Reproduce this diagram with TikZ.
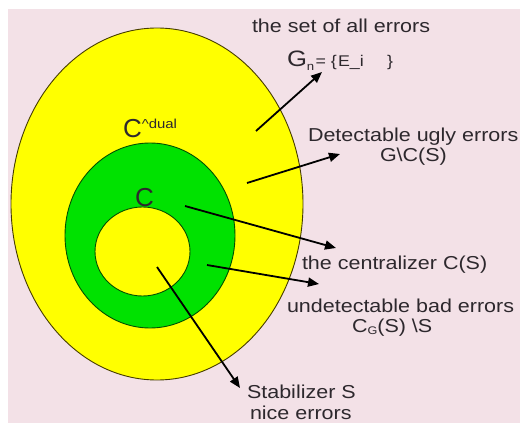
\documentclass[tikz,border=0pt]{standalone}
\usepackage{fontspec}
\setmainfont[FakeStretch=1.15]{Liberation Sans}
\newfontfamily\plainsans{Liberation Sans}
\usetikzlibrary{arrows.meta,shapes.geometric}
\definecolor{bgpink}{RGB}{243,225,231}
\definecolor{yel}{RGB}{255,255,0}
\definecolor{grn}{RGB}{0,226,0}
\definecolor{txt}{RGB}{45,40,45}
\definecolor{outerline}{RGB}{70,60,0}
\definecolor{grnline}{RGB}{0,80,0}
\newcommand{\fsz}[1]{\fontsize{#1}{#1}\selectfont}
\begin{document}
\begin{tikzpicture}[x=1pt,y=-1pt,
  lbl/.style={anchor=base west,inner sep=0pt,outer sep=0pt,text=txt,font=\fsz{18.7}},
  ring/.style={ellipse,inner sep=0pt,outer sep=0pt,line width=0.9pt},
  arr/.style={line width=1.8pt,-{Triangle[length=11pt,width=9pt]}}]
\useasboundingbox (0,0) rectangle (520,423);
\fill[white] (0,0) rectangle (520,423);
\fill[bgpink] (8,9) rectangle (520,423);
% regions
\node[ring,draw=outerline,fill=yel,minimum width=292pt,minimum height=352pt] (outer) at (157,204) {};
\node[ring,draw=grnline,fill=grn,minimum width=170pt,minimum height=185pt] (cent) at (150,235.5) {};
\node[ring,draw=grnline,fill=yel,minimum width=95pt,minimum height=89pt] (stab) at (142.5,251.5) {};
% labels
\node[lbl] (tall) at (252,32) {the set of all errors};
\node[lbl,font=\fsz{22.3}] (gn) at (287,66) {G\raisebox{-4pt}{\fsz{11.5}n}};
\node[lbl,font=\fsz{15.5}] (eqa) at (315.5,66) {= \{};
\node[lbl,font=\fsz{15.5}] (eqb) at (338,66) {E\_i};
\node[lbl,font=\fsz{15.5}] (eqc) at (387,66) {\}};
\node[lbl] (det) at (308,141) {Detectable ugly errors};
\node[lbl] (gcs) at (380,161) {G\textbackslash C(S)};
\node[lbl] (cen) at (302,269) {the centralizer C(S)};
\node[lbl] (und) at (287,312) {undetectable bad errors};
\node[lbl] (cgs) at (352,332) {C\raisebox{-2pt}{\fsz{11}G}(S) \textbackslash S};
\node[lbl] (stl) at (247,398) {Stabilizer S};
\node[lbl] (nic) at (250,419) {nice errors};
\node[lbl,font=\plainsans\fsz{26}] (cdual) at (123,137) {C\raisebox{9pt}{\fsz{13}\addfontfeature{FakeStretch=1.15}\^{}dual}};
\node[lbl,font=\plainsans\fsz{26}] (clab) at (135,206) {C};
% arrow endpoints
\coordinate (s1) at (256,131); \coordinate (e1) at (322,72);
\coordinate (s2) at (247,183); \coordinate (e2) at (340,154);
\coordinate (s3) at (185,206); \coordinate (e3) at (336,248);
\coordinate (s4) at (207,265); \coordinate (e4) at (319,284);
\coordinate (s5) at (157,267); \coordinate (e5) at (240,388);
\draw[arr] (s1) -- (e1);
\draw[arr] (s2) -- (e2);
\draw[arr] (s3) -- (e3);
\draw[arr] (s4) -- (e4);
\draw[arr] (s5) -- (e5);
\end{tikzpicture}
\end{document}
